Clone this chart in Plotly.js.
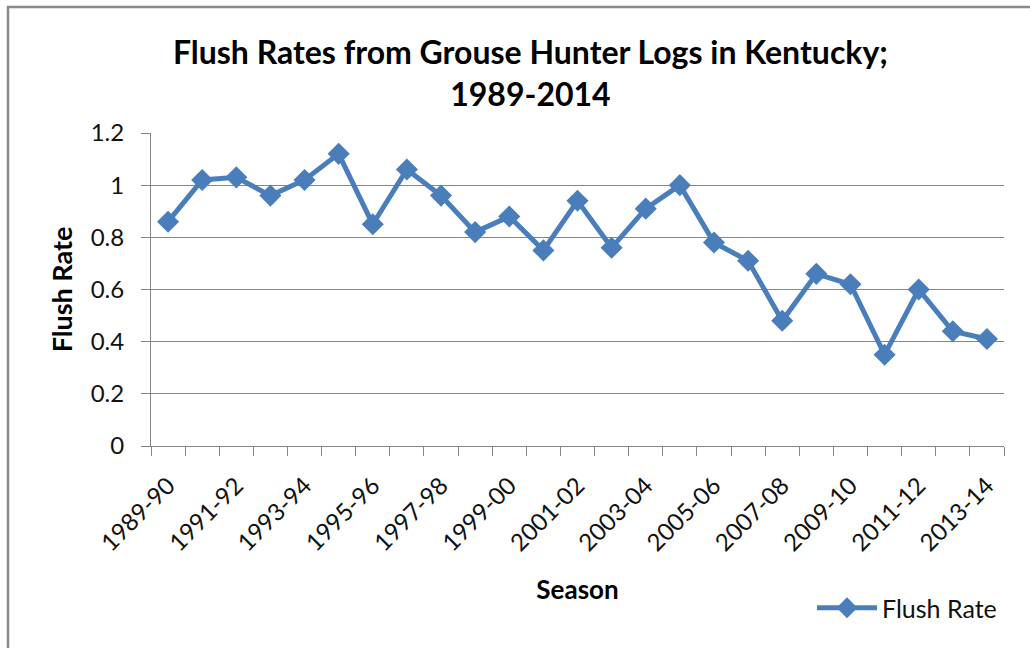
<!DOCTYPE html>
<html>
<head>
<meta charset="utf-8">
<script src="https://cdn.plot.ly/plotly-3.0.1.min.js"></script>
<style>
  html, body { margin: 0; padding: 0; background: #fff; }
  #chart { width: 1030px; height: 648px; }
</style>
</head>
<body>
<div id="chart"></div>
<script>
const seasons = [
  "1989-90","1990-91","1991-92","1992-93","1993-94","1994-95","1995-96",
  "1996-97","1997-98","1998-99","1999-00","2000-01","2001-02","2002-03",
  "2003-04","2004-05","2005-06","2006-07","2007-08","2008-09","2009-10",
  "2010-11","2011-12","2012-13","2013-14"
];
const flushRate = [
  0.86, 1.02, 1.03, 0.96, 1.02, 1.12, 0.85,
  1.06, 0.96, 0.82, 0.88, 0.75, 0.94, 0.76,
  0.91, 1.00, 0.78, 0.71, 0.48, 0.66, 0.62,
  0.35, 0.60, 0.44, 0.41
];
const tickLabels = seasons.map((s, i) => (i % 2 === 0 ? s : ""));
const yTicks = [0, 0.2, 0.4, 0.6, 0.8, 1, 1.2];

const FONT = "Lato, 'Noto Sans', sans-serif";
const BLUE = "#4a7ebb";

const trace = {
  x: seasons,
  y: flushRate,
  type: "scatter",
  mode: "lines+markers",
  name: "Flush Rate",
  line: { color: BLUE, width: 5 },
  marker: { symbol: "diamond", size: 17, color: BLUE }
};

// plot area: x 151..1004, y 133..446
const L = 151, R = 1030 - 1004, T = 133, B = 648 - 446;
const PW = 1030 - L - R, PH = 648 - T - B;
const px = v => (v - L) / PW;
const py = v => (648 - B - v) / PH;

const layout = {
  width: 1030, height: 648,
  margin: { l: L, r: R, t: T, b: B, pad: 0 },
  paper_bgcolor: "#fff", plot_bgcolor: "#fff",
  font: { family: FONT, color: "#111", size: 24 },
  title: {
    text: "<b>Flush Rates from Grouse Hunter Logs in Kentucky;<br>1989-2014</b>",
    font: { family: FONT, size: 32, color: "#000" },
    x: 0.515, xanchor: "center",
    y: 1 - 64 / 648, yanchor: "top", yref: "container"
  },
  xaxis: {
    type: "category",
    range: [-0.5, seasons.length - 0.5],
    tickvals: seasons,
    ticktext: tickLabels,
    tickangle: -45,
    tickson: "boundaries",
    ticks: "outside", ticklen: 9, tickcolor: "#868686", tickwidth: 1,
    ticklabelstandoff: 15,
    showline: true, linecolor: "#868686", linewidth: 1,
    showgrid: false, zeroline: false,
    tickfont: { family: FONT, size: 24, color: "#111" },
    title: { text: "<b>Season</b>", font: { family: FONT, size: 26, color: "#000" }, standoff: 25 },
    fixedrange: true
  },
  yaxis: {
    range: [0, 1.2],
    tickvals: yTicks,
    ticktext: yTicks.map(v => String(v)),
    ticks: "outside", ticklen: 9, tickcolor: "#868686", tickwidth: 1,
    ticklabelstandoff: 12,
    showline: true, linecolor: "#868686", linewidth: 1,
    showgrid: true, gridcolor: "#868686", gridwidth: 1,
    zeroline: false,
    tickfont: { family: FONT, size: 24, color: "#111" },
    title: { text: "<b>Flush Rate</b>", font: { family: FONT, size: 27, color: "#000" }, standoff: 10 },
    fixedrange: true
  },
  showlegend: true,
  legend: {
    orientation: "h",
    x: px(812), xanchor: "left",
    y: py(608), yanchor: "middle",
    font: { family: FONT, size: 25, color: "#111" },
    itemwidth: 60,
    bgcolor: "rgba(0,0,0,0)"
  },
  shapes: [{
    type: "rect", xref: "paper", yref: "paper",
    x0: px(8), x1: px(1040), y0: py(7), y1: py(700),
    line: { color: "#8a8a8a", width: 2.5 }, fillcolor: "rgba(0,0,0,0)"
  }]
};

Plotly.newPlot("chart", [trace], layout, { displayModeBar: false, staticPlot: true });
</script>
</body>
</html>
